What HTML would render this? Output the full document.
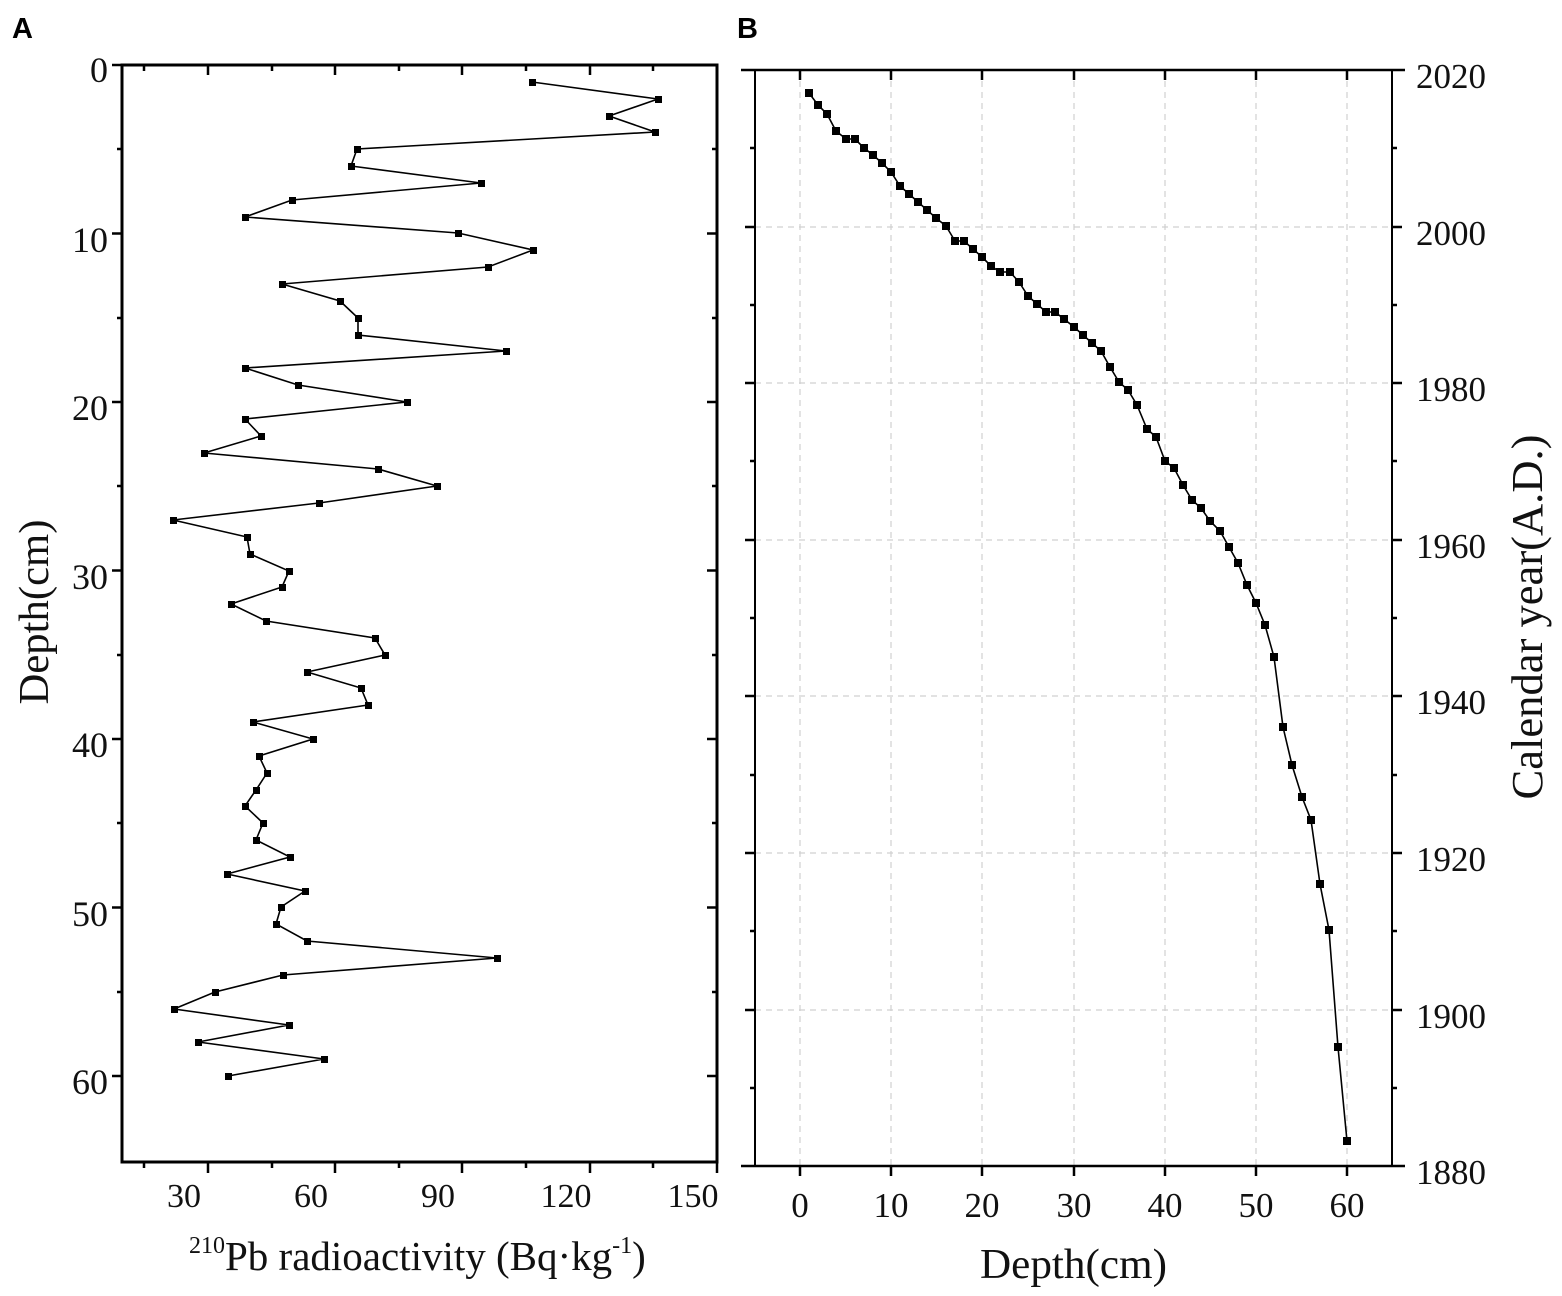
<!DOCTYPE html>
<html><head><meta charset="utf-8"><style>
html,body{margin:0;padding:0;background:#fff}
svg{display:block}
</style></head><body>
<svg width="1562" height="1296" viewBox="0 0 1562 1296" xmlns="http://www.w3.org/2000/svg" font-family="Liberation Serif, serif">
<text x="12" y="38" font-family="Liberation Sans, sans-serif" font-weight="bold" font-size="29">A</text>
<text x="737" y="38" font-family="Liberation Sans, sans-serif" font-weight="bold" font-size="29">B</text>

<!-- Panel A -->
<g stroke="#000" fill="none">
<rect x="122" y="65" width="595" height="1097" stroke-width="3"/>
<g stroke-width="2.5">
<path d="M112 65H122M112 233.5H122M112 402H122M112 570.5H122M112 739H122M112 907.5H122M112 1076H122"/>
<path d="M117 149H122M117 318H122M117 486H122M117 655H122M117 823H122M117 992H122"/>
<path d="M707 233.5H717M707 402H717M707 570.5H717M707 739H717M707 907.5H717M707 1076H717"/>
<path d="M712 149H717M712 318H717M712 486H717M712 655H717M712 823H717M712 992H717"/>
<path d="M144 65V71M208 65V75M272 65V71M335 65V75M399 65V71M462 65V75M526 65V71M590 65V75M653 65V71"/>
<path d="M144 1162V1168M208 1162V1173M272 1162V1168M335 1162V1173M399 1162V1168M462 1162V1173M526 1162V1168M590 1162V1173M653 1162V1168M717 1162V1173"/>
</g>
<polyline stroke-width="1.6" points="532,82 658,99 609,116 655,132 357,149 351,166 481,183 292,200 245,217 458,233 533,250 488,267 282,284 340,301 358,318 358,335 506,351 245,368 298,385 407,402 245,419 261,436 204,453 378,469 437,486 319,503 173,520 247,537 250,554 289,571 282,587 231,604 266,621 375,638 385,655 307,672 361,688 368,705 253,722 313,739 259,756 267,773 256,790 245,806 263,823 256,840 290,857 227,874 305,891 281,907 276,924 307,941 497,958 283,975 215,992 174,1009 289,1025 198,1042 324,1059 228,1076"/>
</g>
<g fill="#000">
<rect x="529" y="79" width="7" height="7"/><rect x="655" y="96" width="7" height="7"/><rect x="606" y="113" width="7" height="7"/><rect x="652" y="129" width="7" height="7"/><rect x="354" y="146" width="7" height="7"/><rect x="348" y="163" width="7" height="7"/><rect x="478" y="180" width="7" height="7"/><rect x="289" y="197" width="7" height="7"/><rect x="242" y="214" width="7" height="7"/><rect x="455" y="230" width="7" height="7"/><rect x="530" y="247" width="7" height="7"/><rect x="485" y="264" width="7" height="7"/><rect x="279" y="281" width="7" height="7"/><rect x="337" y="298" width="7" height="7"/><rect x="355" y="315" width="7" height="7"/><rect x="355" y="332" width="7" height="7"/><rect x="503" y="348" width="7" height="7"/><rect x="242" y="365" width="7" height="7"/><rect x="295" y="382" width="7" height="7"/><rect x="404" y="399" width="7" height="7"/><rect x="242" y="416" width="7" height="7"/><rect x="258" y="433" width="7" height="7"/><rect x="201" y="450" width="7" height="7"/><rect x="375" y="466" width="7" height="7"/><rect x="434" y="483" width="7" height="7"/><rect x="316" y="500" width="7" height="7"/><rect x="170" y="517" width="7" height="7"/><rect x="244" y="534" width="7" height="7"/><rect x="247" y="551" width="7" height="7"/><rect x="286" y="568" width="7" height="7"/><rect x="279" y="584" width="7" height="7"/><rect x="228" y="601" width="7" height="7"/><rect x="263" y="618" width="7" height="7"/><rect x="372" y="635" width="7" height="7"/><rect x="382" y="652" width="7" height="7"/><rect x="304" y="669" width="7" height="7"/><rect x="358" y="685" width="7" height="7"/><rect x="365" y="702" width="7" height="7"/><rect x="250" y="719" width="7" height="7"/><rect x="310" y="736" width="7" height="7"/><rect x="256" y="753" width="7" height="7"/><rect x="264" y="770" width="7" height="7"/><rect x="253" y="787" width="7" height="7"/><rect x="242" y="803" width="7" height="7"/><rect x="260" y="820" width="7" height="7"/><rect x="253" y="837" width="7" height="7"/><rect x="287" y="854" width="7" height="7"/><rect x="224" y="871" width="7" height="7"/><rect x="302" y="888" width="7" height="7"/><rect x="278" y="904" width="7" height="7"/><rect x="273" y="921" width="7" height="7"/><rect x="304" y="938" width="7" height="7"/><rect x="494" y="955" width="7" height="7"/><rect x="280" y="972" width="7" height="7"/><rect x="212" y="989" width="7" height="7"/><rect x="171" y="1006" width="7" height="7"/><rect x="286" y="1022" width="7" height="7"/><rect x="195" y="1039" width="7" height="7"/><rect x="321" y="1056" width="7" height="7"/><rect x="225" y="1073" width="7" height="7"/>
</g>
<g font-size="36" fill="#111" text-anchor="end">
<text x="108" y="82">0</text><text x="108" y="252">10</text><text x="108" y="420">20</text><text x="108" y="589">30</text><text x="108" y="757">40</text><text x="108" y="926">50</text><text x="108" y="1094">60</text>
</g>
<g font-size="34" fill="#111" text-anchor="middle">
<text x="184" y="1207">30</text><text x="311" y="1207">60</text><text x="438" y="1207">90</text><text x="566" y="1207">120</text><text x="693" y="1207">150</text>
</g>
<text x="189" y="1270" font-size="41" fill="#111"><tspan font-size="24" dy="-17">210</tspan><tspan dy="17">Pb radioactivity (Bq·kg</tspan><tspan font-size="24" dy="-17">-1</tspan><tspan dy="17">)</tspan></text>
<text transform="translate(48,612) rotate(-90)" font-size="42" text-anchor="middle" fill="#111" textLength="185" lengthAdjust="spacingAndGlyphs">Depth(cm)</text>

<!-- Panel B -->
<g stroke="#d0d0d0" stroke-width="1.2" stroke-dasharray="6,5">
<path d="M800 70V1166M891 70V1166M982 70V1166M1074 70V1166M1165 70V1166M1256 70V1166M1347 70V1166"/>
<path d="M755 227H1392M755 383H1392M755 540H1392M755 696H1392M755 853H1392M755 1010H1392"/>
</g>
<g stroke="#000" fill="none" stroke-width="2.5">
<path d="M741 70H1405M741 1166H1405"/>
<path d="M755 70V1166M1392 70V1166" stroke-width="2"/>
<path d="M745 227H755M745 383H755M745 540H755M745 696H755M745 853H755M745 1010H755"/>
<path d="M750 148H755M750 305H755M750 461H755M750 618H755M750 775H755M750 931H755M750 1088H755"/>
<path d="M1392 227H1402M1392 383H1402M1392 540H1402M1392 696H1402M1392 853H1402M1392 1010H1402"/>
<path d="M1392 148H1397M1392 305H1397M1392 461H1397M1392 618H1397M1392 775H1397M1392 931H1397M1392 1088H1397"/>
<path d="M800 70V80M891 70V80M982 70V80M1074 70V80M1165 70V80M1256 70V80M1347 70V80"/>
<path d="M800 1166V1176M891 1166V1176M982 1166V1176M1074 1166V1176M1165 1166V1176M1256 1166V1176M1347 1166V1176"/>
</g>
<polyline stroke="#000" fill="none" stroke-width="1.6" points="809,93 818,105 827,114 836,131 846,139 855,139 864,148 873,155 882,163 891,172 900,186 909,194 918,202 927,210 936,218 946,226 955,241 964,241 973,249 982,257 991,266 1000,272 1010,272 1019,282 1028,296 1037,304 1046,312 1055,312 1064,319 1074,327 1083,335 1092,343 1101,351 1110,367 1119,382 1128,390 1137,405 1147,429 1156,437 1165,461 1174,468 1183,485 1192,500 1201,508 1210,521 1220,531 1229,547 1238,563 1247,585 1256,603 1265,625 1274,657 1283,727 1292,765 1302,797 1311,820 1320,884 1329,930 1338,1047 1347,1141"/>
<g fill="#000">
<rect x="805" y="89" width="8" height="8"/><rect x="814" y="101" width="8" height="8"/><rect x="823" y="110" width="8" height="8"/><rect x="832" y="127" width="8" height="8"/><rect x="842" y="135" width="8" height="8"/><rect x="851" y="135" width="8" height="8"/><rect x="860" y="144" width="8" height="8"/><rect x="869" y="151" width="8" height="8"/><rect x="878" y="159" width="8" height="8"/><rect x="887" y="168" width="8" height="8"/><rect x="896" y="182" width="8" height="8"/><rect x="905" y="190" width="8" height="8"/><rect x="914" y="198" width="8" height="8"/><rect x="923" y="206" width="8" height="8"/><rect x="932" y="214" width="8" height="8"/><rect x="942" y="222" width="8" height="8"/><rect x="951" y="237" width="8" height="8"/><rect x="960" y="237" width="8" height="8"/><rect x="969" y="245" width="8" height="8"/><rect x="978" y="253" width="8" height="8"/><rect x="987" y="262" width="8" height="8"/><rect x="996" y="268" width="8" height="8"/><rect x="1006" y="268" width="8" height="8"/><rect x="1015" y="278" width="8" height="8"/><rect x="1024" y="292" width="8" height="8"/><rect x="1033" y="300" width="8" height="8"/><rect x="1042" y="308" width="8" height="8"/><rect x="1051" y="308" width="8" height="8"/><rect x="1060" y="315" width="8" height="8"/><rect x="1070" y="323" width="8" height="8"/><rect x="1079" y="331" width="8" height="8"/><rect x="1088" y="339" width="8" height="8"/><rect x="1097" y="347" width="8" height="8"/><rect x="1106" y="363" width="8" height="8"/><rect x="1115" y="378" width="8" height="8"/><rect x="1124" y="386" width="8" height="8"/><rect x="1133" y="401" width="8" height="8"/><rect x="1143" y="425" width="8" height="8"/><rect x="1152" y="433" width="8" height="8"/><rect x="1161" y="457" width="8" height="8"/><rect x="1170" y="464" width="8" height="8"/><rect x="1179" y="481" width="8" height="8"/><rect x="1188" y="496" width="8" height="8"/><rect x="1197" y="504" width="8" height="8"/><rect x="1206" y="517" width="8" height="8"/><rect x="1216" y="527" width="8" height="8"/><rect x="1225" y="543" width="8" height="8"/><rect x="1234" y="559" width="8" height="8"/><rect x="1243" y="581" width="8" height="8"/><rect x="1252" y="599" width="8" height="8"/><rect x="1261" y="621" width="8" height="8"/><rect x="1270" y="653" width="8" height="8"/><rect x="1279" y="723" width="8" height="8"/><rect x="1288" y="761" width="8" height="8"/><rect x="1298" y="793" width="8" height="8"/><rect x="1307" y="816" width="8" height="8"/><rect x="1316" y="880" width="8" height="8"/><rect x="1325" y="926" width="8" height="8"/><rect x="1334" y="1043" width="8" height="8"/><rect x="1343" y="1137" width="8" height="8"/>
</g>
<g font-size="35" fill="#111">
<text x="1416" y="88">2020</text><text x="1416" y="245">2000</text><text x="1416" y="401">1980</text><text x="1416" y="558">1960</text><text x="1416" y="714">1940</text><text x="1416" y="871">1920</text><text x="1416" y="1028">1900</text><text x="1416" y="1184">1880</text>
</g>
<g font-size="35" fill="#111" text-anchor="middle">
<text x="800" y="1217">0</text><text x="891" y="1217">10</text><text x="982" y="1217">20</text><text x="1074" y="1217">30</text><text x="1165" y="1217">40</text><text x="1256" y="1217">50</text><text x="1347" y="1217">60</text>
</g>
<text x="980" y="1278" font-size="42" fill="#111" textLength="187" lengthAdjust="spacingAndGlyphs">Depth(cm)</text>
<text transform="translate(1542,617) rotate(-90)" font-size="44" text-anchor="middle" fill="#111" textLength="365" lengthAdjust="spacingAndGlyphs">Calendar year(A.D.)</text>
</svg>
</body></html>
